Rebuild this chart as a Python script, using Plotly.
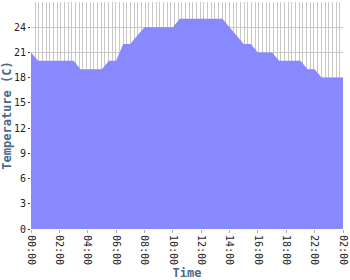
import plotly.graph_objects as go

# sample index (15-minute steps) and temperature values
sample_idx = list(range(89))
temps = [
    21, 20.5, 20, 20, 20, 20, 20, 20, 20, 20, 20, 20, 20, 19.5, 19,
    19, 19, 19, 19, 19, 19, 19.5, 20, 20, 20, 21, 22, 22, 22, 22.5,
    23, 23.5, 24, 24, 24, 24, 24, 24, 24, 24, 24, 24.5, 25, 25, 25,
    25, 25, 25, 25, 25, 25, 25, 25, 25, 25, 24.5, 24, 23.5, 23, 22.5,
    22, 22, 22, 21.5, 21, 21, 21, 21, 21, 20.5, 20, 20, 20, 20, 20,
    20, 20, 19.5, 19, 19, 19, 18.5, 18, 18, 18, 18, 18, 18, 18,
]
tick_positions = [0, 8, 16, 24, 32, 40, 48, 56, 64, 72, 80, 88]
tick_labels = ["00:00", "02:00", "04:00", "06:00", "08:00", "10:00",
               "12:00", "14:00", "16:00", "18:00", "22:00", "02:00"]
y_ticks = [0, 3, 6, 9, 12, 15, 18, 21, 24]

title_color = "#4a6a8c"
tick_font = dict(family="DejaVu Sans Mono", size=10, color="#222222")

fig = go.Figure()
fig.add_trace(go.Scatter(
    x=sample_idx, y=temps, mode="lines", fill="tozeroy",
    fillcolor="#8888ff", line=dict(width=0, color="#8888ff"),
    hoverinfo="skip",
))

fig.update_layout(
    width=350, height=280,
    margin=dict(l=31, r=7, t=2, b=51),
    paper_bgcolor="white", plot_bgcolor="white",
    showlegend=False,
    xaxis=dict(
        range=[0, 88], tickmode="array", tickvals=tick_positions,
        ticktext=tick_labels, tickangle=90, tickfont=tick_font,
        showgrid=False, zeroline=False, showline=False, automargin=False,
        ticks="outside", ticklen=3, tickcolor="#aaaaaa",
        minor=dict(tickmode="linear", tick0=0.1, dtick=88 / 85,
                   showgrid=True, gridcolor="#c8c8c8", gridwidth=1, ticks=""),
        title=dict(text="<b>Time</b>", standoff=6,
                   font=dict(family="DejaVu Sans Mono", size=12, color=title_color)),
    ),
    yaxis=dict(
        range=[0, 27], tickmode="array", tickvals=y_ticks, automargin=False,
        tickfont=tick_font, showgrid=True, gridcolor="#c8c8c8", gridwidth=1,
        zeroline=False, showline=False, ticks="outside", ticklen=2,
        tickcolor="#333333",
        title=dict(text="<b>Temperature (C)</b>", standoff=4,
                   font=dict(family="DejaVu Sans Mono", size=12, color=title_color)),
    ),
)

fig.write_html("out.html")
